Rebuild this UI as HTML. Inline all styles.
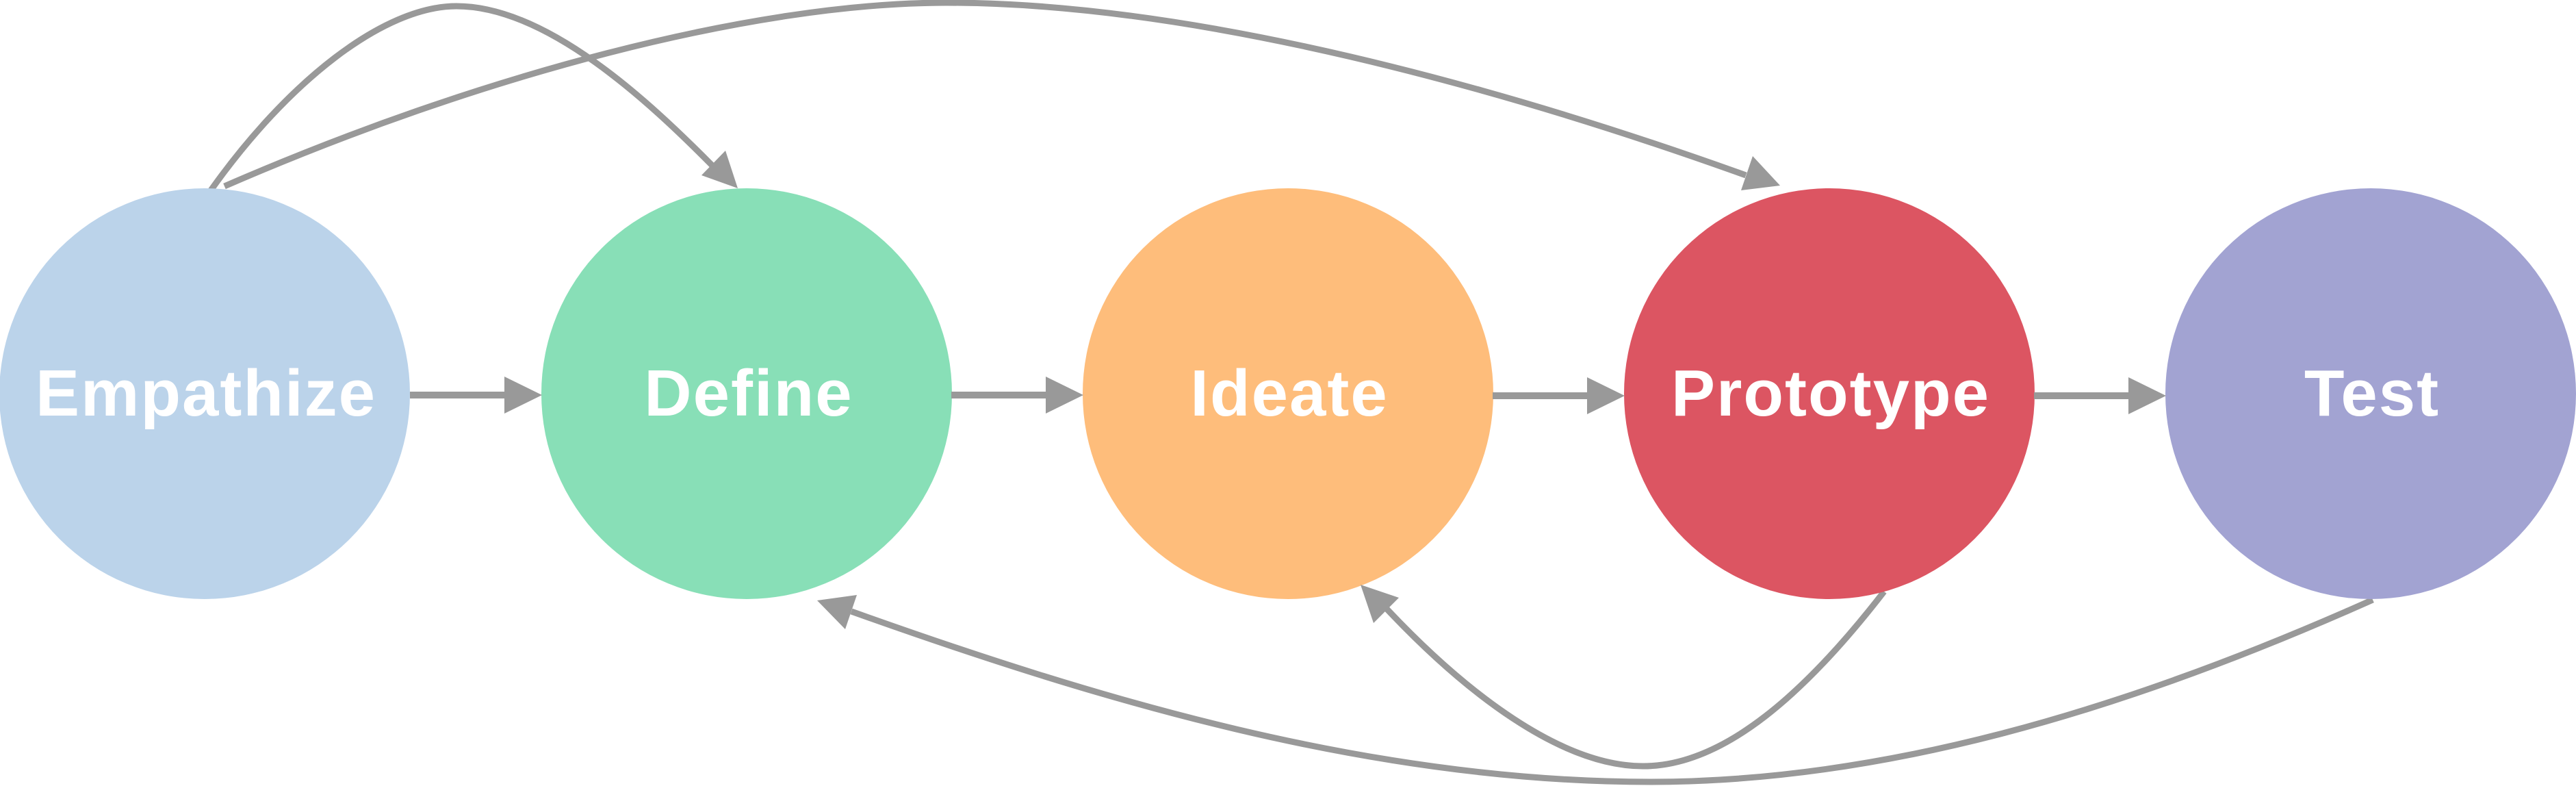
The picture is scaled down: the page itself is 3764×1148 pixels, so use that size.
<!DOCTYPE html>
<html><head><meta charset="utf-8"><style>html,body{margin:0;padding:0;background:#fff}svg{display:block}</style></head>
<body>
<svg width="3764" height="1148" viewBox="0 0 3764 1148" xmlns="http://www.w3.org/2000/svg">
<g fill="none" stroke="#999" stroke-width="9">
<path d="M308,278 C420,120 560,9 667,9 C800,9 950,150 1041,242"/>
<path d="M328,272 C700,110 1100,4 1383,4 C1750,4 2200,130 2551,256"/>
<path d="M3467,876 C3100,1040 2750,1142 2411,1142 C2000,1142 1600,1020 1244,893"/>
<path d="M2753,864 C2640,1010 2520,1119 2401,1119 C2280,1119 2140,1010 2026,889"/>
</g>
<circle cx="299" cy="575" r="300" fill="#BBD3EA"/>
<circle cx="1091" cy="575" r="300" fill="#88DFB7"/>
<circle cx="1882" cy="575" r="300" fill="#FEBD7B"/>
<circle cx="2673" cy="575" r="300" fill="#DC5562"/>
<circle cx="3464" cy="575" r="300" fill="#A2A3D2"/>
<g fill="#999">
<polygon points="1078,275 1025,256 1060,220"/>
<polygon points="2601,271 2561,228 2544,278"/>
<polygon points="1194,877 1252,869 1235,919"/>
<polygon points="1988,854 2044,873 2007,910"/>
</g>
<g stroke="#999" stroke-width="10">
<line x1="599" y1="577" x2="740" y2="577"/>
<line x1="1390" y1="577" x2="1531" y2="577"/>
<line x1="2181" y1="578" x2="2322" y2="578"/>
<line x1="2972" y1="578" x2="3113" y2="578"/>
</g>
<g fill="#999">
<polygon points="737,550 792,577 737,604"/>
<polygon points="1528,550 1583,577 1528,604"/>
<polygon points="2319,551 2374,578 2319,605"/>
<polygon points="3110,551 3165,578 3110,605"/>
</g>
<g fill="#fff" font-family="Liberation Sans, sans-serif" font-weight="bold" font-size="96" text-anchor="middle" letter-spacing="2">
<text x="301" y="607">Empathize</text>
<text x="1094" y="607">Define</text>
<text x="1884" y="607">Ideate</text>
<text x="2675" y="607">Prototype</text>
<text x="3466" y="607">Test</text>
</g>
</svg>
</body></html>
